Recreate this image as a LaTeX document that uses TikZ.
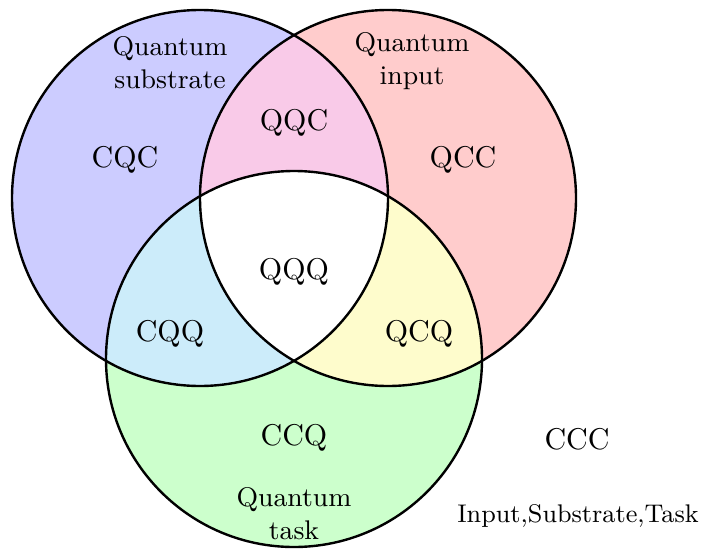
\documentclass[tikz,border=0pt]{standalone}
\definecolor{cblue}{RGB}{204,204,255}
\definecolor{cred}{RGB}{255,204,204}
\definecolor{cgreen}{RGB}{204,255,204}
\definecolor{cpink}{RGB}{249,202,232}
\definecolor{ccyan}{RGB}{204,236,250}
\definecolor{cyellow}{RGB}{254,252,204}
\begin{document}
\begin{tikzpicture}[x=0.33333pt,y=-0.33333pt,
  lab/.style={font=\normalsize, inner sep=0pt},
  slab/.style={font=\small, align=center, inner sep=0pt},
  ring/.style={draw=black, thick}]
\useasboundingbox (0,0) rectangle (702,548);
\def\R{188}
\coordinate (cb) at (200,198);
\coordinate (cr) at (388,198);
\coordinate (cg) at (294,359);
% base fills
\fill[cblue] (cb) circle[radius=\R];
\fill[cred] (cr) circle[radius=\R];
\fill[cgreen] (cg) circle[radius=\R];
% pairwise
\begin{scope}
  \clip (cb) circle[radius=\R];
  \fill[cpink] (cr) circle[radius=\R];
  \fill[ccyan] (cg) circle[radius=\R];
\end{scope}
\begin{scope}
  \clip (cr) circle[radius=\R];
  \fill[cyellow] (cg) circle[radius=\R];
\end{scope}
\begin{scope}
  \clip (cb) circle[radius=\R];
  \clip (cr) circle[radius=\R];
  \fill[white] (cg) circle[radius=\R];
\end{scope}
% outlines
\draw[ring] (cb) circle[radius=\R];
\draw[ring] (cr) circle[radius=\R];
\draw[ring] (cg) circle[radius=\R];
% labels
\node[slab] (qs) at (170,63) {Quantum\\substrate};
\node[slab] (qi) at (412,61) {Quantum\\input};
\node[slab] (qt) at (294,514) {Quantum\\task};
\node[lab] (cqc) at (125,160) {CQC};
\node[lab] (qqc) at (294,123) {QQC};
\node[lab] (qcc) at (463,160) {QCC};
\node[lab] (qqq) at (294,272) {QQQ};
\node[lab] (cqq) at (170,334) {CQQ};
\node[lab] (qcq) at (419,334) {QCQ};
\node[lab] (ccq) at (294,438) {CCQ};
\node[lab] (ccc) at (577,439) {CCC};
\node[inner sep=0pt] (ist) at (578,516) {\scalebox{0.945}{\small Input,Substrate,Task}};
\end{tikzpicture}
\end{document}
